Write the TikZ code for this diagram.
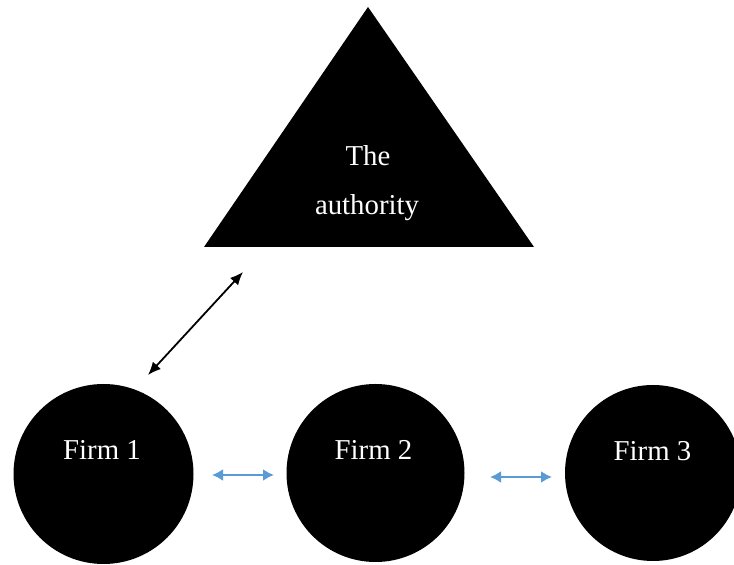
\documentclass[tikz,border=0pt]{standalone}
\usepackage{fontspec}
\setmainfont{Liberation Serif}
\usetikzlibrary{arrows.meta}
\definecolor{linkblue}{HTML}{5B9BD5}
\begin{document}
\begin{tikzpicture}[x=0.5pt,y=-0.5pt,
  firm/.style={circle,fill=black,draw=none,inner sep=0pt},
  lbl/.style={text=white,anchor=base,inner sep=0pt,font=\fontsize{14.4pt}{17pt}\selectfont},
  blackarrow/.style={{Latex[length=6.5pt,width=5.5pt]}-{Latex[length=6.5pt,width=5.5pt]},line width=0.9pt,black},
  bluearrow/.style={{Latex[length=5.5pt,width=6pt]}-{Latex[length=5.5pt,width=6pt]},line width=1.3pt,linkblue}]
\useasboundingbox (0,0) rectangle (734,565);
\begin{scope}
\clip (0,0) rectangle (734,565);
% authority triangle
\fill[black] (368,7) -- (534,247) -- (204,247) -- cycle;
\node[lbl] (the) at (368,166) {The};
\node[lbl] (auth) at (367,215) {authority};
% firms
\node[firm,minimum size=90pt] (f1) at (103.5,474) {};
\node[firm,minimum size=89pt] (f2) at (375.5,473) {};
\node[firm,minimum size=88pt] (f3) at (653,473) {};
\node[lbl] (t1) at (102,460) {Firm 1};
\node[lbl] (t2) at (373.5,460) {Firm 2};
\node[lbl] (t3) at (652.5,461) {Firm 3};
\end{scope}
% connectors
\coordinate (aTop) at (243,272);
\coordinate (aBot) at (148,375);
\draw[blackarrow] (aBot) -- (aTop);
\coordinate (b1l) at (212,475);
\coordinate (b1r) at (274,475);
\draw[bluearrow] (b1l) -- (b1r);
\coordinate (b2l) at (490,477);
\coordinate (b2r) at (552,477);
\draw[bluearrow] (b2l) -- (b2r);
\end{tikzpicture}
\end{document}
